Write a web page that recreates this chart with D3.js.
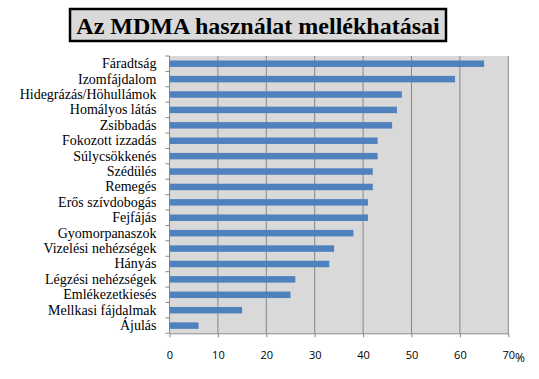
<!DOCTYPE html>
<html><head><meta charset="utf-8">
<script src="https://cdn.jsdelivr.net/npm/d3@7"></script>
<style>body{margin:0;background:#fff;}svg{display:block;}</style>
</head><body>
<script>
const categories = ["Fáradtság","Izomfájdalom","Hidegrázás/Höhullámok","Homályos látás","Zsibbadás","Fokozott izzadás","Súlycsökkenés","Szédülés","Remegés","Erős szívdobogás","Fejfájás","Gyomorpanaszok","Vizelési nehézségek","Hányás","Légzési nehézségek","Emlékezetkiesés","Mellkasi fájdalmak","Ájulás"];
const values = [65,59,48,47,46,43,43,42,42,41,41,38,34,33,26,25,15,6];
const xTicks = [0,10,20,30,40,50,60,70];
const title = "Az MDMA használat mellékhatásai";

(function(){
const SERIF = "'Liberation Serif', Tinos, 'Times New Roman', 'DejaVu Serif', serif";
const SANS = "'Open Sans', 'DejaVu Sans', sans-serif";
const W=539,H=379;
const svg=d3.select("body").append("svg").attr("width",W).attr("height",H);
const pL=169.5,pR=508.3,pT=56,pB=333.3;
const x=d3.scaleLinear().domain([0,70]).range([pL,pR]);
const y=d3.scaleBand().domain(categories).range([pT,pB]).paddingInner(0.58).paddingOuter(0.29);

svg.append("rect").attr("x",70).attr("y",9).attr("width",376).attr("height",32)
  .attr("fill","#d9d9d9").attr("stroke","#000").attr("stroke-width",2.5);
svg.append("text").attr("x",258).attr("y",34).attr("text-anchor","middle")
  .style("font-family",SERIF).style("font-weight","bold").style("font-size","24px").attr("fill","#000").text(title);

svg.append("rect").attr("x",pL).attr("y",pT).attr("width",pR-pL).attr("height",pB-pT).attr("fill","#d9d9d9");
svg.append("g").selectAll("line").data(xTicks.slice(1)).join("line")
  .attr("x1",d=>x(d)).attr("x2",d=>x(d)).attr("y1",pT).attr("y2",pB)
  .attr("stroke","#868686").attr("stroke-width",1);

svg.append("g").selectAll("rect").data(values).join("rect")
  .attr("x",x(0)).attr("y",(d,i)=>y(categories[i])).attr("width",d=>x(d)-x(0))
  .attr("height",y.bandwidth()).attr("fill","#4f81bd");

const xAxis=d3.axisBottom(x).tickValues(xTicks).tickSize(4).tickSizeOuter(0);
const gx=svg.append("g").attr("transform",`translate(0,${pB})`).call(xAxis);
gx.select(".domain").attr("stroke","#868686");
gx.selectAll(".tick line").attr("stroke","#868686");
gx.selectAll(".tick text").attr("dy",0).attr("y",26).style("font-family",SANS).style("font-size","11px").attr("fill","#000");
svg.append("text").attr("x",515).attr("y",362).style("font-family",SANS).style("font-size","12px").attr("fill","#000").text("%");

const yAxis=d3.axisLeft(y).tickSize(0).tickPadding(13);
const gy=svg.append("g").attr("transform",`translate(${pL},0)`).call(yAxis);
gy.select(".domain").attr("stroke","#868686").attr("d",`M0,${pT}V${pB}`);
gy.selectAll(".tick text").style("font-family",SERIF).style("font-size","14px").attr("fill","#000");
const step=(pB-pT)/categories.length;
svg.append("g").selectAll("line").data(d3.range(categories.length+1)).join("line")
  .attr("x1",pL-4).attr("x2",pL).attr("y1",i=>pT+i*step).attr("y2",i=>pT+i*step)
  .attr("stroke","#868686");
})();
</script>
</body></html>
